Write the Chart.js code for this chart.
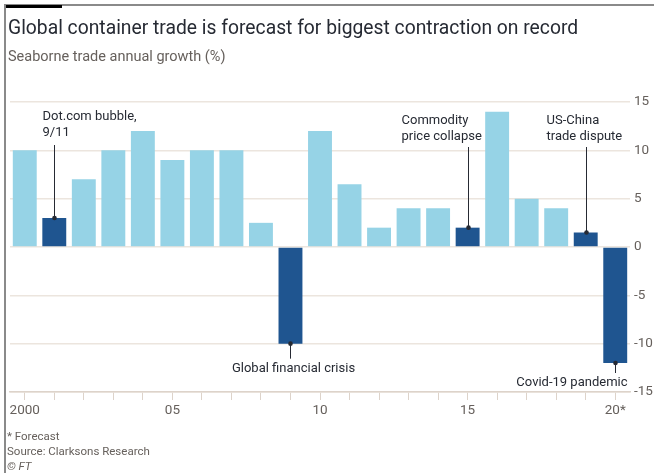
<!DOCTYPE html>
<html>
<head>
<meta charset="utf-8">
<script src="https://cdn.jsdelivr.net/npm/chart.js@4.4.1/dist/chart.umd.min.js"></script>
<style>
  body { margin: 0; background: #fff; }
  #wrap { position: relative; width: 654px; height: 473px; overflow: hidden; font-family: Roboto, "Noto Sans", sans-serif; }
  #frameTop { position: absolute; left: 5px; top: 4px; width: 649px; height: 2px; background: #8a8a8a; }
  #frameLeft { position: absolute; left: 4px; top: 4px; width: 2px; height: 469px; background: #8a8a8a; }
  #frameMark { position: absolute; left: 6px; top: 5px; width: 56px; height: 3px; background: #000; }
  #title { position: absolute; left: 8px; top: 16px; font-size: 19.3px; color: #262a33; white-space: nowrap; }
  #subtitle { position: absolute; left: 8px; top: 48px; font-size: 14.5px; color: #66605c; white-space: nowrap; }
  #foot { position: absolute; left: 7px; top: 429px; font-size: 11.5px; line-height: 15px; color: #66605c; }
  #foot i { font-style: italic; }
  canvas { position: absolute; left: 0; top: 0; }
</style>
</head>
<body>
<div id="wrap">
  <canvas id="chart" width="654" height="473"></canvas>
  <div id="frameTop"></div>
  <div id="frameLeft"></div>
  <div id="frameMark"></div>
  <div id="title">Global container trade is forecast for biggest contraction on record</div>
  <div id="subtitle">Seaborne trade annual growth (%)</div>
  <div id="foot">* Forecast<br>Source: Clarksons Research<br><i>© FT</i></div>
</div>
<script>
// seaborne trade growth, % per year
const years = [2000, 2001, 2002, 2003, 2004, 2005, 2006, 2007, 2008, 2009, 2010,
               2011, 2012, 2013, 2014, 2015, 2016, 2017, 2018, 2019, 2020];
const growth = [10, 3, 7, 10, 12, 9, 10, 10, 2.5, -10, 12,
                6.5, 2, 4, 4, 2, 14, 5, 4, 1.5, -12];
const xTickLabels = ['2000', '', '', '', '', '05', '', '', '', '', '10',
                     '', '', '', '', '15', '', '', '', '', '20*'];
const yTicks = [-15, -10, -5, 0, 5, 10, 15];

// shock years and their captions
const shockYears = [2001, 2009, 2015, 2019, 2020];
const shockNotes = [
  ['Dot.com bubble,', '9/11'],
  ['Global financial crisis'],
  ['Commodity', 'price collapse'],
  ['US-China', 'trade dispute'],
  ['Covid-19 pandemic']
];

const LIGHT = '#96d3e6';
const DARK = '#1f5590';
const INK = '#262a33';
const barColors = years.map(y => shockYears.includes(y) ? DARK : LIGHT);

// caption placement per shock year
const noteLayout = {
  2001: { place: 'above', align: 'left', dx: -12, textY: 117, lineTop: 145 },
  2015: { place: 'above', align: 'left', dx: -67, textY: 121, lineTop: 147 },
  2019: { place: 'above', align: 'left', dx: -40, textY: 121, lineTop: 147 },
  2009: { place: 'below', align: 'center', dx: 3, gap: 15 },
  2020: { place: 'below', align: 'right', dx: 12, gap: 10 }
};

const shockNotesPlugin = {
  id: 'shockNotes',
  afterDatasetsDraw(chart) {
    const ctx = chart.ctx;
    const xs = chart.scales.x;
    const ys = chart.scales.y;
    ctx.save();
    ctx.font = '13px Roboto, "Noto Sans", sans-serif';
    ctx.fillStyle = INK;
    ctx.strokeStyle = INK;
    ctx.lineWidth = 1;
    shockYears.forEach((yr, k) => {
      const i = years.indexOf(yr);
      const lay = noteLayout[yr];
      const x = Math.round(xs.getPixelForValue(i)) + 0.5;
      const yv = ys.getPixelForValue(growth[i]);
      const lines = shockNotes[k];
      let lineEnd, textTop;
      if (lay.place === 'above') {
        lineEnd = lay.lineTop;
        textTop = lay.textY;
      } else {
        lineEnd = yv + lay.gap;
        textTop = lineEnd + 10;
      }
      ctx.beginPath();
      ctx.moveTo(x, yv);
      ctx.lineTo(x, lineEnd);
      ctx.stroke();
      ctx.beginPath();
      ctx.arc(x, yv, 2.3, 0, Math.PI * 2);
      ctx.fill();
      ctx.textAlign = lay.align;
      ctx.textBaseline = 'middle';
      lines.forEach((t, j) => ctx.fillText(t, x + lay.dx, textTop + j * 16));
    });
    ctx.restore();
  }
};

new Chart(document.getElementById('chart'), {
  type: 'bar',
  data: {
    labels: years.map(String),
    datasets: [{
      data: growth,
      backgroundColor: barColors,
      borderWidth: 0,
      barPercentage: 0.81,
      categoryPercentage: 1
    }]
  },
  options: {
    responsive: false,
    animation: false,
    layout: { padding: { left: 10, top: 102, right: 0, bottom: 0 } },
    plugins: { legend: { display: false }, tooltip: { enabled: false } },
    scales: {
      x: {
        offset: true,
        afterFit: s => { s.height = 81; },
        grid: { drawOnChartArea: false, drawTicks: true, tickLength: 8, offset: false, color: '#ddd3ca' },
        border: { display: true, color: '#ddd3ca', width: 1.5 },
        ticks: {
          autoSkip: false,
          maxRotation: 0,
          padding: 3,
          color: '#66605c',
          font: { family: 'Roboto, "Noto Sans", sans-serif', size: 13.5 },
          callback: (v, i) => xTickLabels[i]
        }
      },
      y: {
        position: 'right',
        min: -15,
        max: 15,
        afterFit: s => { s.width = 24; },
        afterBuildTicks: s => { s.ticks = yTicks.map(v => ({ value: v })); },
        grid: { drawTicks: false, color: '#ece5de', lineWidth: 1.5 },
        border: { display: false },
        ticks: {
          padding: 4,
          color: '#66605c',
          font: { family: 'Roboto, "Noto Sans", sans-serif', size: 13.5 }
        }
      }
    }
  },
  plugins: [shockNotesPlugin]
});
</script>
</body>
</html>
